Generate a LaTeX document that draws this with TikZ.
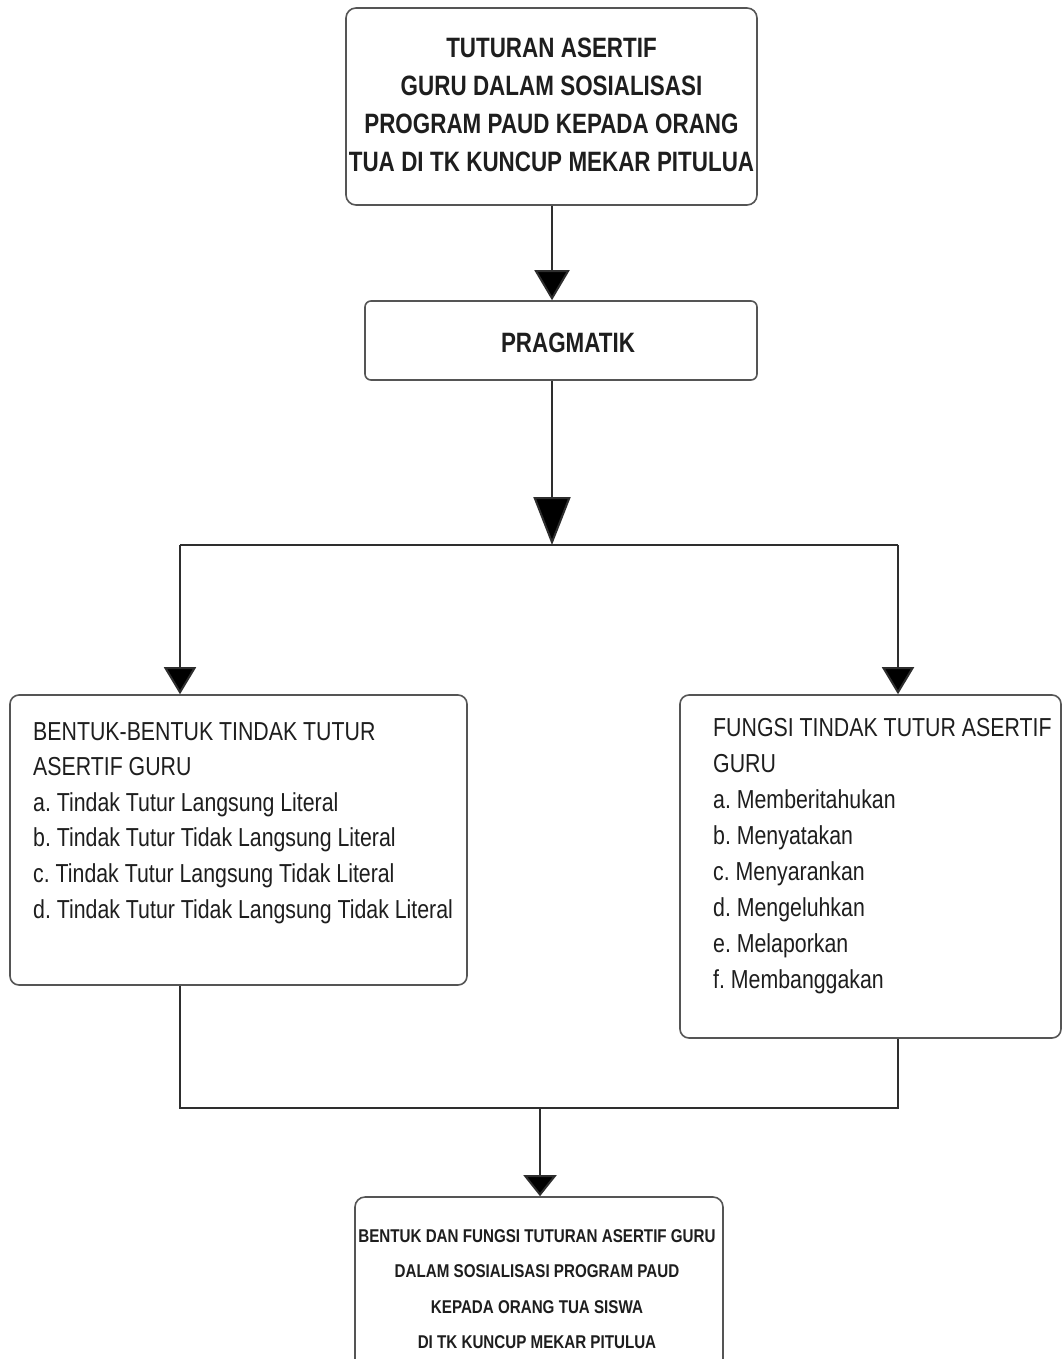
\documentclass[tikz,border=0pt]{standalone}
\usepackage{fontspec}
\setmainfont{Liberation Sans}
\newfontfamily\nreg{Liberation Sans}[FakeStretch=0.82]
\newfontfamily\nbold{Liberation Sans Bold}[FakeStretch=0.8]
\newfontfamily\nboldb{Liberation Sans Bold}[FakeStretch=0.82]
\usetikzlibrary{arrows.meta}
\definecolor{boxline}{HTML}{555555}
\definecolor{conline}{HTML}{2E2E2E}
\definecolor{txt}{HTML}{1E1E1E}
\tikzset{
  boxnode/.style={draw=boxline, line width=1.6pt, inner sep=0pt, fill=white},
  conn/.style={draw=conline, line width=2pt},
  tiptext/.style={text=txt, inner sep=0pt, text width=620pt},
}
\frenchspacing
\hyphenpenalty=10000
\begin{document}
\begin{tikzpicture}[x=1pt,y=-1pt]
\useasboundingbox[fill=white] (0,0) rectangle (1062,1359);

% boxes
\node[boxnode, rounded corners=10pt, minimum width=411pt, minimum height=197pt] (top) at (551.5,106.5) {};
\node[boxnode, rounded corners=6pt, minimum width=392pt, minimum height=79pt] (prag) at (561,340.5) {};
\node[boxnode, rounded corners=9pt, minimum width=457pt, minimum height=290pt] (left) at (238.5,840) {};
\node[boxnode, rounded corners=9pt, minimum width=381pt, minimum height=343pt] (right) at (870.5,866.5) {};
\node[boxnode, rounded corners=10pt, minimum width=368pt, minimum height=183pt] (bot) at (539,1288.5) {};

% texts
\node[tiptext, anchor=base, align=center,
      font={\nbold\fontsize{28}{38}\selectfont}] (toptext) at (551.5,58)
  {\spaceskip=6.4pt\relax TUTURAN ASERTIF\\GURU DALAM SOSIALISASI\\PROGRAM PAUD KEPADA ORANG\\TUA DI TK KUNCUP MEKAR PITULUA};
\node[tiptext, anchor=base, align=center, font={\nbold\fontsize{28}{38}\selectfont}] (pragtext) at (568,352) {PRAGMATIK};
\node[tiptext, anchor=base west, align=left,
      font={\nreg\fontsize{26}{35.6}\selectfont}] (lefttext) at (33,740)
  {\spaceskip=5.9pt\relax BENTUK-BENTUK TINDAK TUTUR\\ASERTIF GURU\\a. Tindak Tutur Langsung Literal\\b. Tindak Tutur Tidak Langsung Literal\\c. Tindak Tutur Langsung Tidak Literal\\d. Tindak Tutur Tidak Langsung Tidak Literal};
\node[tiptext, anchor=base west, align=left,
      font={\nreg\fontsize{26}{36}\selectfont}] (righttext) at (713,736)
  {\spaceskip=5.9pt\relax FUNGSI TINDAK TUTUR ASERTIF\\GURU\\a. Memberitahukan\\b. Menyatakan\\c. Menyarankan\\d. Mengeluhkan\\e. Melaporkan\\f. Membanggakan};
\node[tiptext, anchor=base, align=center,
      font={\nboldb\fontsize{18.5}{35.5}\selectfont}] (bottext) at (537,1242)
  {\spaceskip=4.2pt\relax BENTUK DAN FUNGSI TUTURAN ASERTIF GURU\\DALAM SOSIALISASI PROGRAM PAUD\\KEPADA ORANG TUA SISWA\\DI TK KUNCUP MEKAR PITULUA};

% junction coordinates
\coordinate (split) at (552,545);
\coordinate (jl) at (180,545);
\coordinate (jr) at (898,545);
\coordinate (jbl) at (180,1108);
\coordinate (jbr) at (898,1108);
\coordinate (jb) at (540,1108);

% connectors
\draw[conn, -{Triangle[length=30pt,width=35pt,fill=black]}] (top.south -| split) -- (split |- prag.north);
\draw[conn, -{Triangle[length=48pt,width=37pt,fill=black]}] (prag.south -| split) -- (split);
\draw[conn] (jl) -- (jr);
\draw[conn, -{Triangle[length=27pt,width=32pt,fill=black]}] (jl) -- (jl |- left.north);
\draw[conn, -{Triangle[length=27pt,width=32pt,fill=black]}] (jr) -- (jr |- right.north);
\draw[conn] (jbl |- left.south) -- (jbl) -- (jbr) -- (jbr |- right.south);
\draw[conn, -{Triangle[length=21pt,width=33pt,fill=black]}] (jb) -- (jb |- bot.north);
\end{tikzpicture}
\end{document}
